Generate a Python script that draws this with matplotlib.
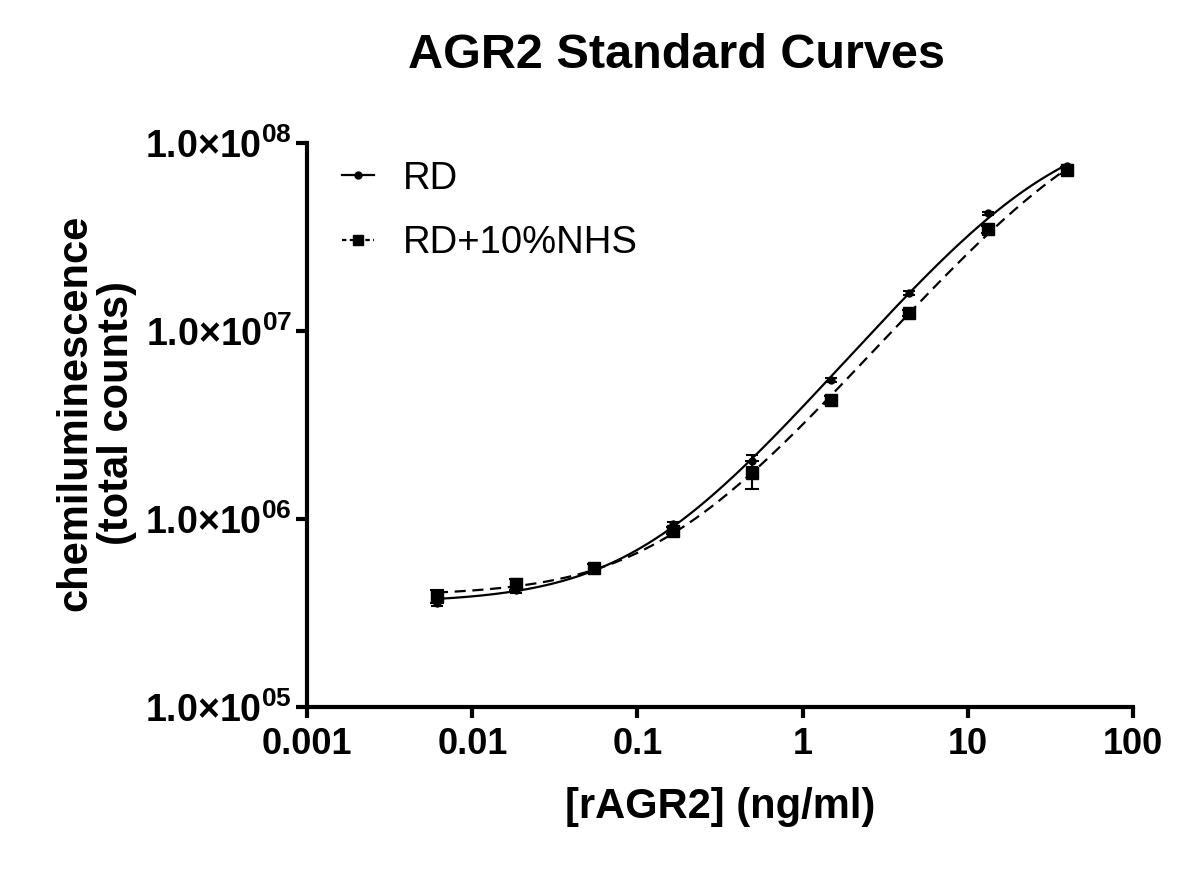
import matplotlib
matplotlib.use("Agg")
import matplotlib.pyplot as plt
import numpy as np

plt.rcParams['font.family'] = ['Liberation Sans', 'DejaVu Sans']
plt.rcParams['mathtext.fontset'] = 'custom'
plt.rcParams['mathtext.bf'] = 'Liberation Sans:bold'
plt.rcParams['mathtext.rm'] = 'Liberation Sans:bold'
plt.rcParams['mathtext.default'] = 'bf'

# data
conc = [0.0061, 0.0183, 0.0549, 0.165, 0.494, 1.48, 4.44, 13.3, 40.0]
rd = [3.6e5, 4.2e5, 5.6e5, 9.4e5, 2.05e6, 5.5e6, 1.59e7, 4.25e7, 7.55e7]
rd_err = [1.5e4, 1.5e4, 2e4, 3e4, 1.5e5, 1.5e5, 4e5, 8e5, 1.5e6]
nhs = [3.9e5, 4.5e5, 5.5e5, 8.7e5, 1.75e6, 4.3e6, 1.25e7, 3.5e7, 7.2e7]
nhs_err = [3e4, 3e4, 3e4, 4e4, 3e5, 2e5, 5e5, 1.5e6, 3e6]

xticks = [0.001, 0.01, 0.1, 1, 10, 100]
xlabels = ['0.001', '0.01', '0.1', '1', '10', '100']
yticks = [1e5, 1e6, 1e7, 1e8]
ylabels = [r'1.0$\times$10$^{0%d}$' % k for k in (5, 6, 7, 8)]


def fit4pl(x, y):
    # crude 4 parameter logistic fit: grid on ec50/hill, linear solve for bottom/top
    x = np.asarray(x); y = np.asarray(y)
    best = None
    for c in np.logspace(-1, 3, 300):
        for b in np.linspace(0.5, 1.6, 111):
            t = (x / c) ** b
            s = t / (1 + t)
            A = np.column_stack([(1 - s) / y, s / y])
            p, *_ = np.linalg.lstsq(A, np.ones_like(y), rcond=None)
            if p[0] <= 0:
                continue
            r = np.sum((A @ p - 1) ** 2)
            if best is None or r < best[0]:
                best = (r, p[0], p[1], c, b)
    return best[1:]


def curve(xx, a, d, c, b):
    t = (xx / c) ** b
    return a + (d - a) * t / (1 + t)


fig = plt.figure(figsize=(12, 8.74), dpi=100)
ax = fig.add_axes([0.256, 0.191, 0.688, 0.645])

xx = np.logspace(np.log10(conc[0]), np.log10(conc[-1]), 300)
p1 = fit4pl(conc, rd)
p2 = fit4pl(conc, nhs)
ax.plot(xx, curve(xx, *p1), color='black', lw=1.6, ls='-')
ax.plot(xx, curve(xx, *p2), color='black', lw=1.6, ls=(0, (5, 3)))

ax.errorbar(conc, rd, yerr=rd_err, fmt='o', ms=5, color='black', capsize=4, elinewidth=1.5, capthick=1.5)
ax.errorbar(conc, nhs, yerr=nhs_err, fmt='s', ms=8, color='black', capsize=5, elinewidth=1.5, capthick=1.5)

# legend handles
h1, = ax.plot([], [], color='black', lw=1.6, marker='o', ms=5, label='RD')
h2, = ax.plot([], [], color='black', lw=1.6, ls=(0, (2, 1.5)), marker='s', ms=7, label='RD+10%NHS')
ax.legend(handles=[h1, h2], loc='upper left', bbox_to_anchor=(0.0, 1.03), frameon=False,
          fontsize=27.5, handlelength=0.85, handletextpad=0.75, labelspacing=0.75)

ax.set_xscale('log')
ax.set_yscale('log')
ax.set_xlim(0.001, 100)
ax.set_ylim(1e5, 1e8)
ax.set_xticks(xticks)
ax.set_xticklabels(xlabels)
ax.set_yticks(yticks)
ax.set_yticklabels(ylabels)
ax.minorticks_off()
for lab in ax.get_xticklabels() + ax.get_yticklabels():
    lab.set_fontweight('bold')
ax.tick_params(axis='x', labelsize=26, width=3, length=8, pad=6)
ax.tick_params(axis='y', labelsize=27, width=3, length=8, pad=3)

for side in ('top', 'right'):
    ax.spines[side].set_visible(False)
for side in ('left', 'bottom'):
    ax.spines[side].set_linewidth(3)

fig.text(0.564, 0.937, 'AGR2 Standard Curves', ha='center', va='center', fontsize=35, fontweight='bold')
fig.text(0.6, 0.077, '[rAGR2] (ng/ml)', ha='center', va='center', fontsize=30, fontweight='bold')
fig.text(0.08, 0.528, 'chemiluminescence\n(total counts)', ha='center', va='center', rotation=90,
         fontsize=30, fontweight='bold', linespacing=1.05)

fig.savefig('out.png', dpi=100)
